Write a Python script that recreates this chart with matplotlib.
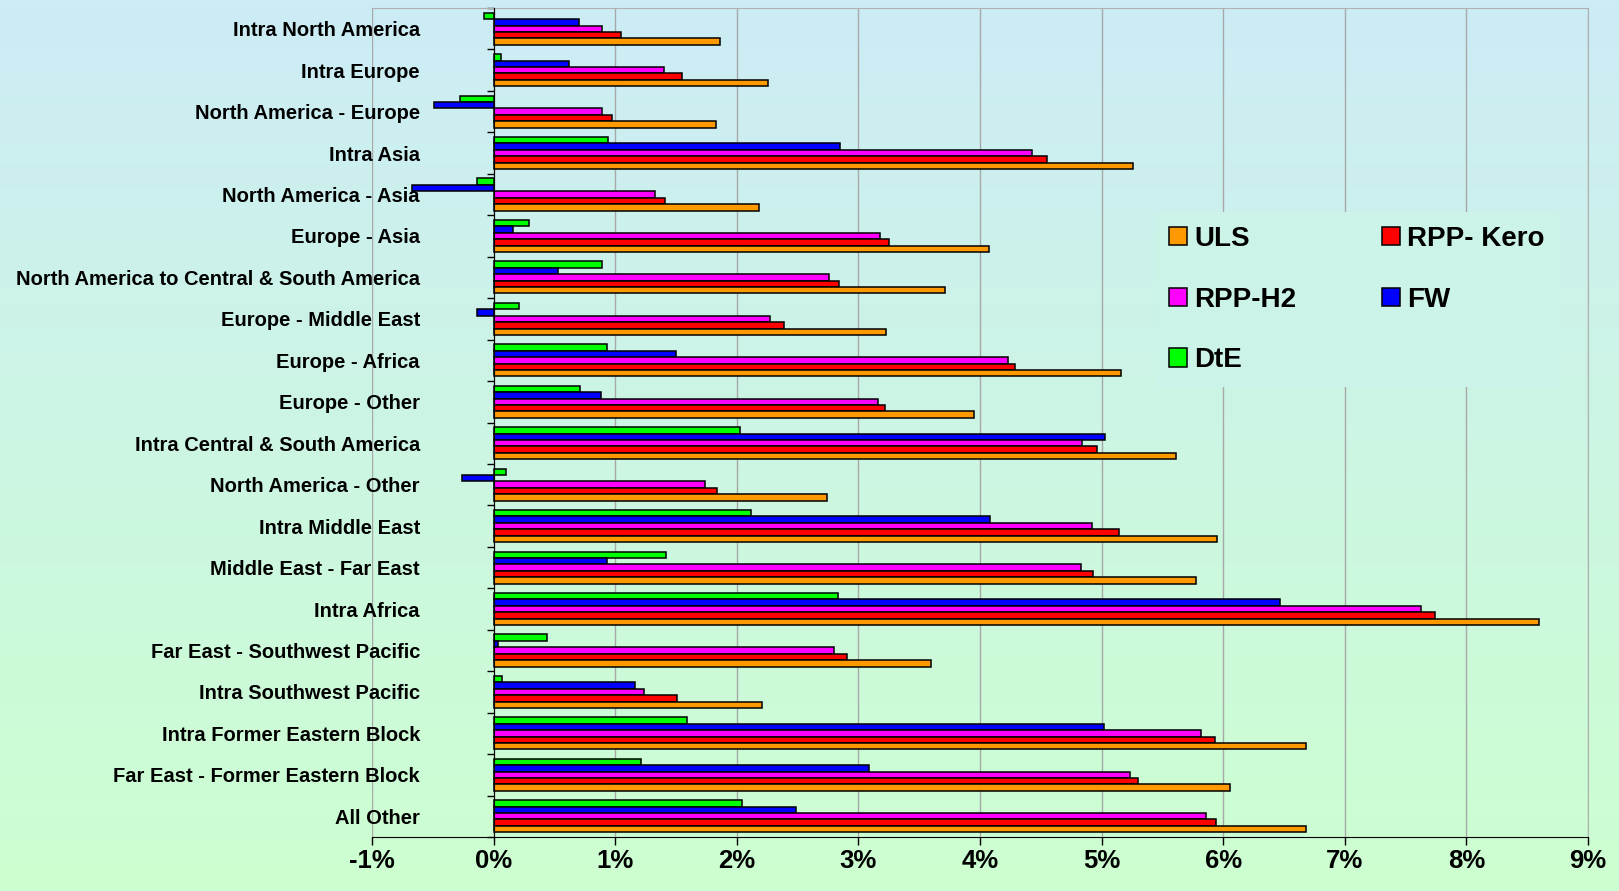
import numpy as np
import matplotlib.pyplot as plt
from matplotlib.ticker import FixedLocator

# routes, top to bottom
categories = ["Intra North America", "Intra Europe", "North America - Europe", "Intra Asia",
              "North America - Asia", "Europe - Asia", "North America to Central & South America",
              "Europe - Middle East", "Europe - Africa", "Europe - Other",
              "Intra Central & South America", "North America - Other", "Intra Middle East",
              "Middle East - Far East", "Intra Africa", "Far East - Southwest Pacific",
              "Intra Southwest Pacific", "Intra Former Eastern Block",
              "Far East - Former Eastern Block", "All Other"]

# growth rates in %
uls = [1.86, 2.26, 1.83, 5.26, 2.18, 4.07, 3.71, 3.23, 5.16, 3.95,
       5.61, 2.74, 5.95, 5.78, 8.60, 3.60, 2.21, 6.68, 6.06, 6.68]
kero = [1.05, 1.55, 0.97, 4.55, 1.41, 3.25, 2.84, 2.39, 4.29, 3.22,
        4.96, 1.84, 5.14, 4.93, 7.74, 2.91, 1.51, 5.93, 5.30, 5.94]
h2 = [0.89, 1.40, 0.89, 4.43, 1.33, 3.18, 2.76, 2.27, 4.23, 3.16,
      4.84, 1.74, 4.92, 4.83, 7.63, 2.80, 1.24, 5.82, 5.23, 5.86]
fw = [0.70, 0.62, -0.49, 2.85, -0.67, 0.16, 0.53, -0.14, 1.50, 0.88,
      5.03, -0.26, 4.08, 0.93, 6.47, 0.04, 1.16, 5.02, 3.09, 2.49]
dte = [-0.08, 0.06, -0.28, 0.94, -0.14, 0.29, 0.89, 0.21, 0.93, 0.71,
       2.03, 0.10, 2.12, 1.42, 2.83, 0.44, 0.07, 1.59, 1.21, 2.04]

series_names = ["DtE", "FW", "RPP-H2", "RPP- Kero", "ULS"]
series_colors = ["#00ff00", "#0000ff", "#ff00ff", "#ff0000", "#ff9900"]
xticks = list(range(-1, 10))
xtick_labels = [str(t) + "%" for t in xticks]

plt.rcParams['font.family'] = ['Liberation Sans', 'DejaVu Sans']
plt.rcParams['font.weight'] = 'bold'

W, H = 1619, 891
fig = plt.figure(figsize=(W / 100, H / 100), dpi=100)

# gradient background over the whole figure
top_col = np.array([204, 236, 246]) / 255
bot_col = np.array([204, 255, 208]) / 255
t = np.linspace(0, 1, 256)[:, None]
grad = top_col[None, :] * (1 - t) + bot_col[None, :] * t
bg = fig.add_axes([0, 0, 1, 1], zorder=-5)
bg.imshow(grad[:, None, :], aspect='auto', extent=[0, 1, 0, 1])
bg.axis('off')

left, right, top, bottom = 372, 1588, 8, 837
ax = fig.add_axes([left / W, 1 - bottom / H, (right - left) / W, (bottom - top) / H])
ax.set_facecolor('none')

y = np.arange(len(categories))
h = 0.155
all_series = [dte, fw, h2, kero, uls]
bars = []
for k in range(5):
    b = ax.barh(y + (k - 2) * h, all_series[k], height=h, color=series_colors[k],
                edgecolor='black', linewidth=1.1, zorder=3)
    bars.append(b)

ax.set_xlim(-1, 9)
ax.set_ylim(len(categories) - 0.5, -0.5)
ax.set_xticks(xticks)
ax.set_xticklabels(xtick_labels, fontsize=18.5, fontweight='bold')
ax.tick_params(axis='x', length=6, width=1, color='black', pad=3)
ax.grid(axis='x', color='#a8a8a8', linewidth=1, zorder=0)

# category axis sits at 0
ax.spines['left'].set_position(('data', 0))
ax.spines['left'].set_color('black')
ax.spines['left'].set_zorder(4)
ax.spines['bottom'].set_color('black')
ax.spines['top'].set_color('#b0b0b0')
ax.spines['right'].set_color('#b0b0b0')
ax.set_yticks(y)
ax.set_yticklabels(categories, fontsize=14.5, fontweight='bold')
ax.yaxis.set_minor_locator(FixedLocator(np.arange(len(categories) + 1) - 0.5))
ax.tick_params(axis='y', which='major', length=0, pad=53)
ax.tick_params(axis='y', which='minor', length=5, width=1, color='black')

# legend, row-major order like the original
order = [4, 2, 0, 3, 1]
mid = tuple(top_col * 0.64 + bot_col * 0.36)
leg = fig.legend([bars[i] for i in order], [series_names[i] for i in order],
                 loc='upper left', bbox_to_anchor=(1155 / W, 1 - 212 / H), ncol=2,
                 prop={'size': 20, 'weight': 'bold'}, frameon=True, fancybox=False,
                 facecolor=mid, edgecolor='none', framealpha=1,
                 handlelength=0.65, handleheight=0.65, handletextpad=0.25,
                 columnspacing=3.1, labelspacing=1.25, borderpad=0.5, borderaxespad=0)

fig.savefig('out.png', dpi=100)
